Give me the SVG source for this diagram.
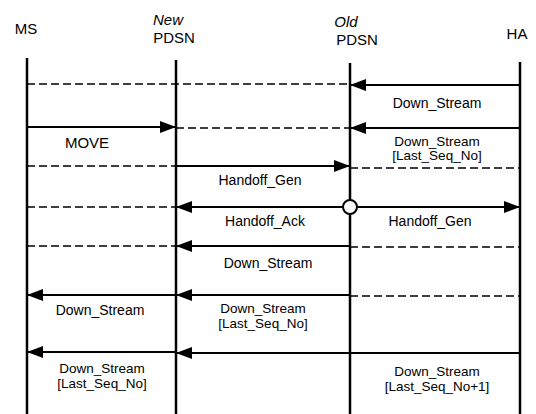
<svg xmlns="http://www.w3.org/2000/svg" width="536" height="414" viewBox="0 0 536 414">
<style>
text{font-family:"Liberation Sans",Arial,sans-serif;fill:#000;font-size:14px;text-anchor:middle}
.hd{font-size:15px}
.it{font-style:italic}
.life{stroke:#000;stroke-width:2.5;fill:none}
.msg{stroke:#000;stroke-width:2.2;fill:none}
.dash{stroke:#000;stroke-width:1.6;stroke-dasharray:8 4;fill:none}
.sm{font-size:13.5px}
</style>
<defs>
<marker id="ah" viewBox="0 0 16 12" refX="16" refY="6" markerWidth="16" markerHeight="12" markerUnits="userSpaceOnUse" orient="auto">
<path d="M0,0 L16,6 L0,12 Z" fill="#000"/>
</marker>
</defs>
<rect width="536" height="414" fill="#fff"/>
<g id="ms">
<text class="hd" x="26" y="34">MS</text>
<line class="life" x1="27" y1="58" x2="27" y2="414"/>
</g>
<g id="newpdsn">
<text class="hd it" x="168" y="25">New</text>
<text class="hd" x="174" y="43">PDSN</text>
<line class="life" x1="176" y1="60" x2="176" y2="414"/>
</g>
<g id="oldpdsn">
<text class="hd it" x="346" y="27">Old</text>
<text class="hd" x="357" y="45">PDSN</text>
<line class="life" x1="350" y1="63" x2="350" y2="414"/>
</g>
<g id="ha">
<text class="hd" x="517" y="39">HA</text>
<line class="life" x1="520" y1="62" x2="520" y2="414"/>
</g>
<g id="connectors">
<line class="dash" x1="27" y1="84" x2="350" y2="84"/>
<line class="msg" x1="520" y1="85" x2="350" y2="85" marker-end="url(#ah)"/>
<line class="msg" x1="27" y1="127" x2="176" y2="127" marker-end="url(#ah)"/>
<line class="dash" x1="176" y1="128" x2="350" y2="128"/>
<line class="msg" x1="520" y1="128" x2="350" y2="128" marker-end="url(#ah)"/>
<line class="dash" x1="27" y1="166" x2="176" y2="166"/>
<line class="msg" x1="176" y1="166" x2="350" y2="166" marker-end="url(#ah)"/>
<line class="dash" x1="350" y1="168" x2="520" y2="168"/>
<line class="dash" x1="27" y1="207" x2="176" y2="207"/>
<line class="msg" x1="343" y1="207" x2="176" y2="207" marker-end="url(#ah)"/>
<line class="msg" x1="357" y1="207" x2="520" y2="207" marker-end="url(#ah)"/>
<circle cx="350" cy="207" r="7" fill="#fff" stroke="#000" stroke-width="2"/>
<line class="dash" x1="27" y1="246" x2="176" y2="246"/>
<line class="msg" x1="350" y1="246" x2="176" y2="246" marker-end="url(#ah)"/>
<line class="dash" x1="350" y1="247" x2="520" y2="247"/>
<line class="msg" x1="176" y1="295" x2="27" y2="295" marker-end="url(#ah)"/>
<line class="msg" x1="350" y1="295" x2="176" y2="295" marker-end="url(#ah)"/>
<line class="dash" x1="350" y1="296" x2="520" y2="296"/>
<line class="msg" x1="176" y1="352" x2="27" y2="352" marker-end="url(#ah)"/>
<line class="msg" x1="520" y1="353" x2="176" y2="353" marker-end="url(#ah)"/>
</g>
<g id="labels">
<text x="437" y="108">Down_Stream</text>
<text class="hd" x="87" y="148">MOVE</text>
<text class="sm" x="437" y="146">Down_Stream</text>
<text class="sm" x="437" y="160">[Last_Seq_No]</text>
<text x="260" y="185">Handoff_Gen</text>
<text x="265" y="226">Handoff_Ack</text>
<text x="430" y="226">Handoff_Gen</text>
<text x="268" y="268">Down_Stream</text>
<text x="100" y="315">Down_Stream</text>
<text class="sm" x="263" y="313">Down_Stream</text>
<text class="sm" x="263" y="328">[Last_Seq_No]</text>
<text class="sm" x="102" y="373">Down_Stream</text>
<text class="sm" x="102" y="388">[Last_Seq_No]</text>
<text class="sm" x="437" y="376">Down_Stream</text>
<text class="sm" x="437" y="391">[Last_Seq_No+1]</text>
</g>
</svg>
